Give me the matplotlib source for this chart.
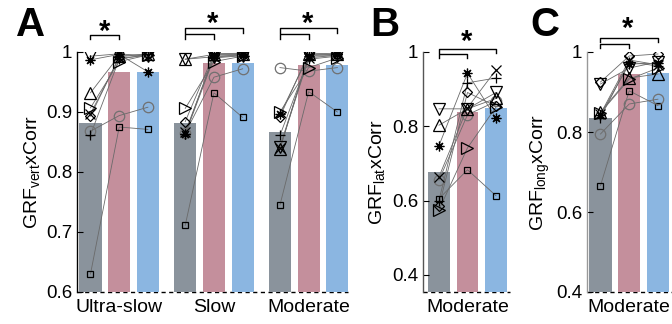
import matplotlib
matplotlib.use("Agg")
import matplotlib.pyplot as plt
import matplotlib.transforms as mtransforms
from matplotlib.ticker import FuncFormatter

plt.rcParams['font.family'] = ['Liberation Sans', 'DejaVu Sans']

# ---------------- data ----------------
markers = ['s', 'o', '^', 'v', '>', 'D', 'x', '+', '*']
conditions = ['Ultra-slow', 'Slow', 'Moderate']

# Panel A: GRF vert xCorr (subject values: gray, pink, blue) per speed
A_us_gray = [0.630, 0.868, 0.932, 0.993, 0.907, 0.893, 0.897, 0.862, 0.987]
A_us_pink = [0.875, 0.894, 0.994, 0.997, 0.984, 0.992, 0.990, 0.988, 0.996]
A_us_blue = [0.871, 0.908, 0.996, 0.993, 0.995, 0.997, 0.994, 0.996, 0.967]
A_sl_gray = [0.711, 0.865, 0.988, 0.988, 0.906, 0.884, 0.866, 0.863, 0.864]
A_sl_pink = [0.932, 0.958, 0.996, 0.992, 0.984, 0.997, 0.993, 0.990, 0.995]
A_sl_blue = [0.891, 0.972, 0.997, 0.994, 0.993, 0.998, 0.995, 0.994, 0.996]
A_mo_gray = [0.745, 0.974, 0.838, 0.842, 0.900, 0.892, 0.840, 0.861, 0.896]
A_mo_pink = [0.934, 0.968, 0.996, 0.993, 0.974, 0.998, 0.990, 0.988, 0.994]
A_mo_blue = [0.900, 0.974, 0.996, 0.994, 0.990, 0.997, 0.995, 0.993, 0.996]
A_bars_us = [0.881, 0.967, 0.967]
A_bars_sl = [0.882, 0.981, 0.981]
A_bars_mo = [0.867, 0.979, 0.979]

# Panel B: GRF lat xCorr, moderate
B_gray = [0.605, 0.655, 0.803, 0.847, 0.575, 0.585, 0.664, 0.600, 0.748]
B_pink = [0.683, 0.831, 0.847, 0.847, 0.742, 0.891, 0.850, 0.917, 0.943]
B_blue = [0.613, 0.867, 0.875, 0.891, 0.852, 0.854, 0.952, 0.930, 0.822]
B_bars = [0.676, 0.838, 0.849]

# Panel C: GRF long xCorr, moderate
C_gray = [0.666, 0.795, 0.850, 0.920, 0.848, 0.925, 0.845, 0.836, 0.843]
C_pink = [0.903, 0.870, 0.935, 0.960, 0.932, 0.990, 0.980, 0.975, 0.970]
C_blue = [0.866, 0.882, 0.945, 0.975, 0.960, 0.995, 0.968, 0.965, 0.972]
C_bars = [0.834, 0.945, 0.948]

bar_colors = ['#8a939c', '#c48f9c', '#8bb6e1']
msizes = {'s': 5, 'o': 7.5, '^': 8, 'v': 8, '>': 8, 'D': 5.5, 'x': 6.5, '+': 7, '*': 7}
mshape = {'*': (8, 2, 0)}  # asterisk (MATLAB style)

fig = plt.figure(figsize=(6.72, 3.24), dpi=100)
H = 240 / 324
B0 = 32 / 324
axA = fig.add_axes([77 / 672, B0, 271 / 672, H])
axB = fig.add_axes([423 / 672, B0, 87 / 672, H])
axC = fig.add_axes([587 / 672, B0, 85 / 672, H])

fmt = FuncFormatter(lambda v, p: ('%g' % round(v, 3)))


def draw_group(ax, x0, bars, gray, pink, blue):
    xs = [x0, x0 + 1, x0 + 2]
    ax.bar(xs, bars, width=0.77, color=bar_colors, bottom=0, zorder=1)
    for i, m in enumerate(markers):
        ys = [gray[i], pink[i], blue[i]]
        ax.plot(xs, ys, color='#6a6a6a', lw=0.6, zorder=2)
        ec = '#707070' if m == 'o' else 'black'
        ax.plot(xs, ys, ls='none', marker=mshape.get(m, m), ms=msizes[m], mfc='none',
                mec=ec, mew=0.9, zorder=3)


def style(ax, ylim, yticks, xlim, xt, xl, spine_col):
    ax.set_ylim(*ylim)
    ax.set_xlim(*xlim)
    ax.set_yticks(yticks)
    ax.yaxis.set_major_formatter(fmt)
    ax.set_xticks(xt)
    ax.set_xticklabels(xl)
    ax.tick_params(axis='x', length=0, labelsize=14, pad=5)
    ax.tick_params(axis='y', direction='in', length=4, labelsize=13.5, color='black')
    for s in ['top', 'right', 'bottom']:
        ax.spines[s].set_visible(False)
    ax.spines['left'].set_color(spine_col)
    ax.spines['left'].set_linewidth(1.0)
    ax.axhline(ylim[0], color='black', lw=1.0, ls=(0, (3, 2.5)), zorder=0.5, clip_on=False)
    ax.set_facecolor('none')


def bracket(ax, x1, x2, ytop, yleg):
    tr = mtransforms.blended_transform_factory(ax.transData, ax.transAxes)
    ax.plot([x1, x1, x2, x2], [yleg, ytop, ytop, yleg], color='black', lw=1.0,
            transform=tr, clip_on=False)


def star(ax, x, y):
    tr = mtransforms.blended_transform_factory(ax.transData, ax.transAxes)
    ax.text(x, y, '*', transform=tr, ha='center', va='center', fontsize=21,
            fontweight='bold')


# Panel A
gx = [1.0, 4.3, 7.6]
draw_group(axA, gx[0], A_bars_us, A_us_gray, A_us_pink, A_us_blue)
draw_group(axA, gx[1], A_bars_sl, A_sl_gray, A_sl_pink, A_sl_blue)
draw_group(axA, gx[2], A_bars_mo, A_mo_gray, A_mo_pink, A_mo_blue)
style(axA, (0.6, 1.0), [0.6, 0.7, 0.8, 0.9, 1.0], (0.53, 9.97),
      [g + 1 for g in gx], conditions, 'black')
axA.set_ylabel('GRF$_\\mathregular{vert}$xCorr', fontsize=14, labelpad=2)
bracket(axA, gx[0], gx[0] + 1, 1.072, 1.055)
star(axA, gx[0] + 0.5, 1.085)
for g in gx[1:]:
    bracket(axA, g, g + 2, 1.098, 1.080)
    bracket(axA, g, g + 1, 1.073, 1.056)
    star(axA, g + 0.95, 1.115)

# Panel B
draw_group(axB, 1.0, B_bars, B_gray, B_pink, B_blue)
style(axB, (0.354, 1.0), [0.4, 0.6, 0.8, 1.0], (0.44, 3.49), [2], ['Moderate'], '#555555')
axB.set_ylabel('GRF$_\\mathregular{lat}$xCorr', fontsize=14, labelpad=3)
bracket(axB, 1, 3, 1.011, 0.995)
bracket(axB, 1, 2, 0.992, 0.977)
star(axB, 1.95, 1.04)

# Panel C
draw_group(axC, 1.0, C_bars, C_gray, C_pink, C_blue)
style(axC, (0.4, 1.0), [0.4, 0.6, 0.8, 1.0], (0.53, 3.49), [2], ['Moderate'], '#999999')
axC.set_ylabel('GRF$_\\mathregular{long}$xCorr', fontsize=14, labelpad=3)
bracket(axC, 1, 3, 1.058, 1.042)
bracket(axC, 1, 2, 1.035, 1.017)
star(axC, 1.95, 1.095)

# Panel letters
fig.text(16 / 672, 1 - 36 / 324, 'A', fontsize=29, fontweight='bold', ha='left', va='baseline')
fig.text(370 / 672, 1 - 36 / 324, 'B', fontsize=29, fontweight='bold', ha='left', va='baseline')
fig.text(530 / 672, 1 - 36 / 324, 'C', fontsize=29, fontweight='bold', ha='left', va='baseline')

fig.savefig('out.png', dpi=100)
